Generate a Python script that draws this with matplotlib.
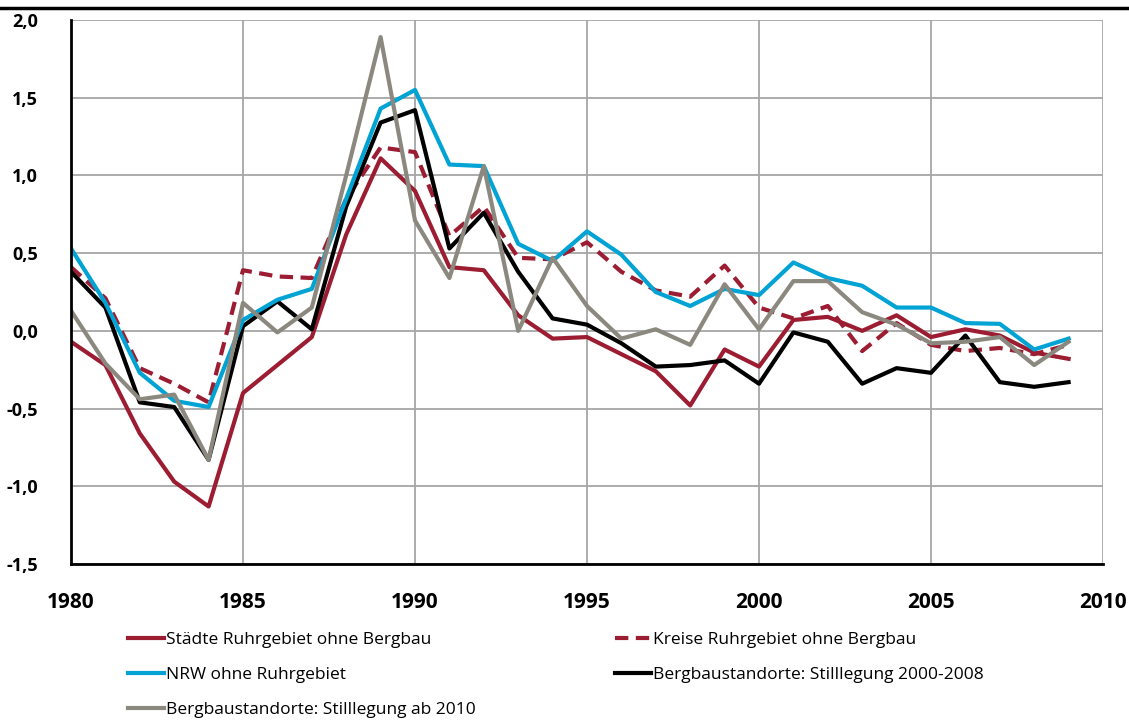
import matplotlib
matplotlib.use("Agg")
import matplotlib.pyplot as plt
from matplotlib.lines import Line2D

plt.rcParams['font.family'] = ['Open Sans', 'DejaVu Sans']

jahre = list(range(1980, 2010))

staedte = [-0.07, -0.22, -0.66, -0.97, -1.13, -0.40, -0.22, -0.04, 0.62, 1.11,
           0.90, 0.41, 0.39, 0.10, -0.05, -0.04, -0.15, -0.26, -0.48, -0.12,
           -0.23, 0.07, 0.09, 0.00, 0.10, -0.04, 0.01, -0.03, -0.14, -0.18]
kreise = [0.41, 0.21, -0.24, -0.34, -0.46, 0.39, 0.35, 0.34, 0.85, 1.18,
          1.15, 0.61, 0.80, 0.47, 0.46, 0.57, 0.38, 0.26, 0.22, 0.42,
          0.15, 0.08, 0.16, -0.13, 0.05, -0.09, -0.13, -0.11, -0.15, -0.09]
nrw = [0.53, 0.18, -0.27, -0.45, -0.49, 0.07, 0.20, 0.27, 0.85, 1.43,
       1.55, 1.07, 1.06, 0.56, 0.45, 0.64, 0.49, 0.25, 0.16, 0.27,
       0.23, 0.44, 0.34, 0.29, 0.15, 0.15, 0.05, 0.045, -0.12, -0.05]
bergbau_2000 = [0.38, 0.15, -0.46, -0.49, -0.83, 0.03, 0.19, 0.01, 0.80, 1.34,
                1.42, 0.53, 0.76, 0.38, 0.08, 0.04, -0.08, -0.23, -0.22, -0.19,
                -0.34, -0.01, -0.07, -0.34, -0.24, -0.27, -0.03, -0.33, -0.36, -0.33]
bergbau_2010 = [0.13, -0.21, -0.44, -0.41, -0.83, 0.18, -0.01, 0.15, 1.00, 1.89,
                0.71, 0.34, 1.06, 0.00, 0.47, 0.16, -0.05, 0.01, -0.09, 0.30,
                0.01, 0.32, 0.32, 0.12, 0.04, -0.08, -0.07, -0.04, -0.22, -0.07]

x_ticks = [1980, 1985, 1990, 1995, 2000, 2005, 2010]
y_ticks = [-1.5, -1.0, -0.5, 0.0, 0.5, 1.0, 1.5, 2.0]

rot = '#9C1C32'
blau = '#00A3D3'
grau = '#8B897F'

fig = plt.figure(figsize=(11.29, 7.23), dpi=100)
ax = fig.add_axes([71/1129, 1 - 564/723, (1103 - 71)/1129, (564 - 20)/723])

lw = 3
l1, = ax.plot(jahre, staedte, color=rot, lw=lw, label='Städte Ruhrgebiet ohne Bergbau')
l2, = ax.plot(jahre, kreise, color=rot, lw=lw, linestyle=(0, (3.2, 1.8)),
              label='Kreise Ruhrgebiet ohne Bergbau')
l3, = ax.plot(jahre, nrw, color=blau, lw=lw, label='NRW ohne Ruhrgebiet')
l4, = ax.plot(jahre, bergbau_2000, color='black', lw=lw,
              label='Bergbaustandorte: Stilllegung 2000-2008')
l5, = ax.plot(jahre, bergbau_2010, color=grau, lw=lw,
              label='Bergbaustandorte: Stilllegung ab 2010')
# Reihenfolge im Bild: grau oben
l5.set_zorder(2.5)
l3.set_zorder(2.2)

ax.set_xlim(1980, 2010)
ax.set_ylim(-1.5, 2.0)
ax.set_xticks(x_ticks)
ax.set_yticks(y_ticks)
ax.set_yticklabels([f'{v:.1f}'.replace('.', ',') for v in y_ticks])
ax.tick_params(length=0)
ax.tick_params(axis='x', pad=20, labelsize=15)
ax.tick_params(axis='y', pad=24, labelsize=13)
for lab in ax.get_xticklabels() + ax.get_yticklabels():
    lab.set_fontweight('bold')

ax.grid(True, color='#A6A6A6', lw=1.3)
ax.set_axisbelow(True)
for s in ['top', 'right']:
    ax.spines[s].set_visible(False)
ax.spines['left'].set_linewidth(2)
ax.spines['bottom'].set_linewidth(2)

# Linie oben (Titelbereich)
fig.add_artist(Line2D([0, 1], [1 - 8/723, 1 - 8/723], color='black', lw=2.5,
                      transform=fig.transFigure))

leg_kw = dict(frameon=False, fontsize=12.5, handlelength=2.1, handletextpad=0.1,
              labelspacing=1.08, borderpad=0, borderaxespad=0)
leg1 = fig.legend(handles=[l1, l3, l5], loc='upper left',
                  bbox_to_anchor=(128/1129, 1 - 632/723), **leg_kw)
leg2 = fig.legend(handles=[l2, l4], loc='upper left',
                  bbox_to_anchor=(615/1129, 1 - 632/723), **leg_kw)

fig.savefig('out.png', dpi=100)
